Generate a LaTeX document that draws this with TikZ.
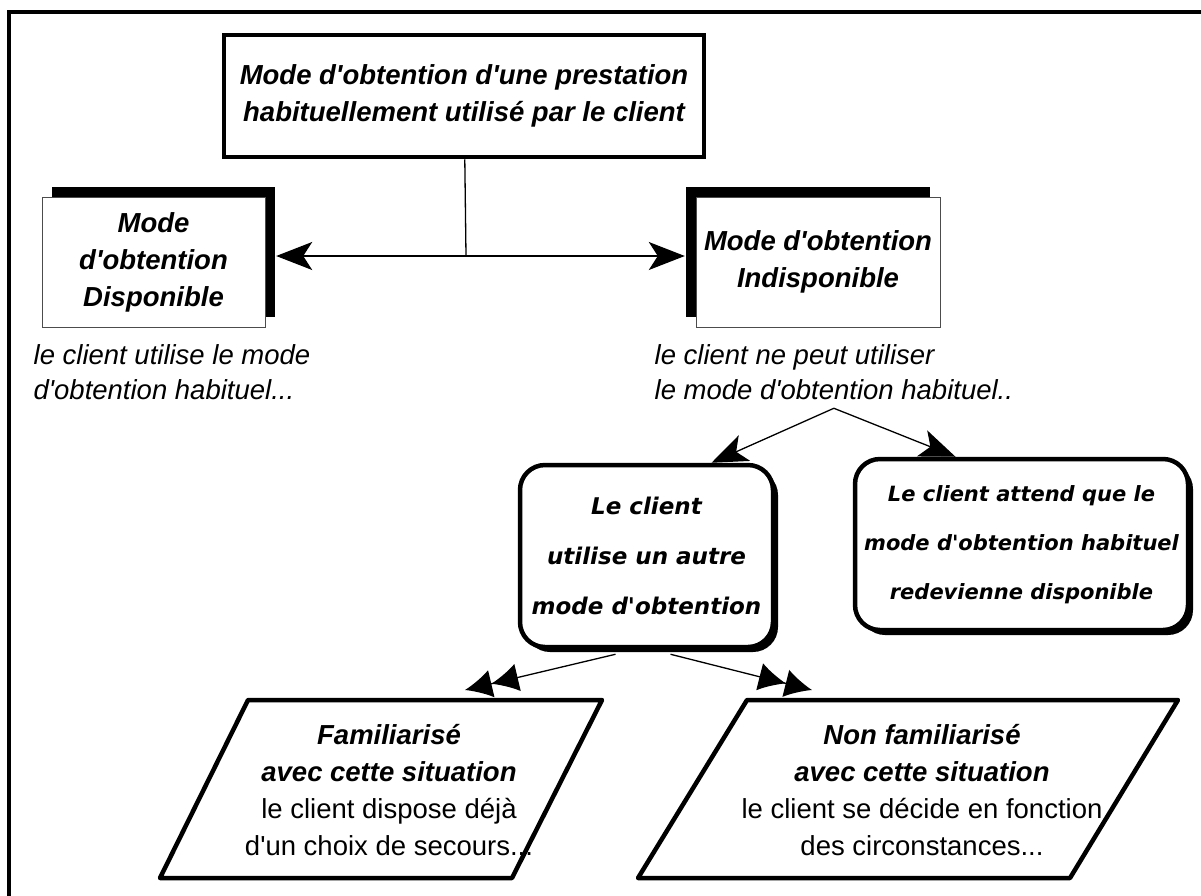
\documentclass[tikz,border=0pt]{standalone}
\usepackage{fontspec}
\setmainfont{Liberation Sans}[Ligatures=TeXOff]
\newfontfamily\roundfont{DejaVu Sans}
\usetikzlibrary{arrows.meta,shadows}
\newcommand\boldit[1]{\textbf{\textit{#1}}}

\begin{document}
\begin{tikzpicture}[x=1pt, y=-1pt, line width=1.3pt, >={Stealth[length=36pt,width=28pt,inset=9pt]},
	titlebox/.style={draw, line width=4.5pt, fill=white, minimum width=480pt, minimum height=122pt, align=center,
		font=\fontsize{27.5}{37}\selectfont\bfseries\itshape},
	sidebox/.style={draw=black!70, thin, fill=white, minimum width=223pt, minimum height=130pt, align=center,
		font=\fontsize{27.5}{37}\selectfont\bfseries\itshape},
	shadowright/.style={drop shadow={shadow xshift=10pt, shadow yshift=10pt, fill=black, opacity=1}},
	shadowleft/.style={drop shadow={shadow xshift=-10pt, shadow yshift=10pt, fill=black, opacity=1}},
	note/.style={inner sep=0pt, align=left, font=\fontsize{27.5}{35}\selectfont\itshape},
	roundbox/.style={draw, line width=4.5pt, rounded corners=25pt, fill=white, align=center,
		font=\fontsize{21}{49}\selectfont\roundfont\bfseries\itshape,
		drop shadow={shadow xshift=5pt, shadow yshift=-5pt, fill=black, opacity=1}},
	paraline/.style={draw, line width=4.5pt, line join=round, fill=white},
	paratext/.style={align=center, font=\fontsize{27.5}{37}\selectfont},
	twotips/.style={-{Latex[length=27pt,width=28pt]Latex[length=27pt,width=28pt]}}]
	\useasboundingbox (0,0) rectangle (1201,895);
	\draw[line width=4pt] (9,905) -- (9,12) -- (1215,12);

	\node (top) at (464,96) [titlebox] {Mode d'obtention d'une prestation\\ habituellement utilisé par le client};
	\node (avail) at (153.5,262) [sidebox, shadowright] {Mode\\d'obtention\\Disponible};
	\node (unavail) at (818,262) [sidebox, shadowleft, minimum width=244pt] {Mode d'obtention\\Indisponible};
	\node (availnote) at (33,372) [note, anchor=west] {le client utilise le mode\\d'obtention habituel...};
	\node (unavailnote) at (654,372) [note, anchor=west] {le client ne peut utiliser\\le mode d'obtention habituel..};
	\node (other) at (646.5,556) [roundbox, minimum width=253pt, minimum height=182pt, font=\fontsize{23}{50}\selectfont\roundfont\bfseries\itshape]
		{Le client\\utilise un autre\\mode d'obtention};
	\node (wait) at (1021.5,544.5) [roundbox, minimum width=333pt, minimum height=171pt] {Le client attend que le\\mode d'obtention habituel\\redevienne disponible};

	\draw[paraline] (248,700) -- (602,700) -- (512,878) -- (160,878) -- cycle;
	\draw[paraline] (747,700) -- (1178,700) -- (1070,878) -- (638,878) -- cycle;
	\node (fam) at (389,790) [paratext] {\boldit{Familiarisé}\\\boldit{avec cette situation}\\le client dispose déjà\\d'un choix de secours...};
	\node (nonfam) at (922,790) [paratext] {\boldit{Non familiarisé}\\\boldit{avec cette situation}\\le client se décide en fonction\\des circonstances...};

	\coordinate (split) at (466,256);
	\draw (top) -- (split);
	\draw[<->, shorten <=11pt, shorten >=11pt] (split -| avail.east) -- (split -| unavail.west);
	\draw[->] ([yshift=-8pt]unavailnote.south) -- ([xshift=65pt]other.north);
	\draw[->] ([yshift=-8pt]unavailnote.south) -- ([xshift=-66pt]wait.north);
	\draw[twotips] ([xshift=-31pt, yshift=-5pt]other.south) -- ([shift={(76,-100)}]fam.center);
	\draw[twotips] ([xshift=24pt, yshift=-5pt]other.south) -- ([shift={(-110,-100)}]nonfam.center);
\end{tikzpicture}
\end{document}
